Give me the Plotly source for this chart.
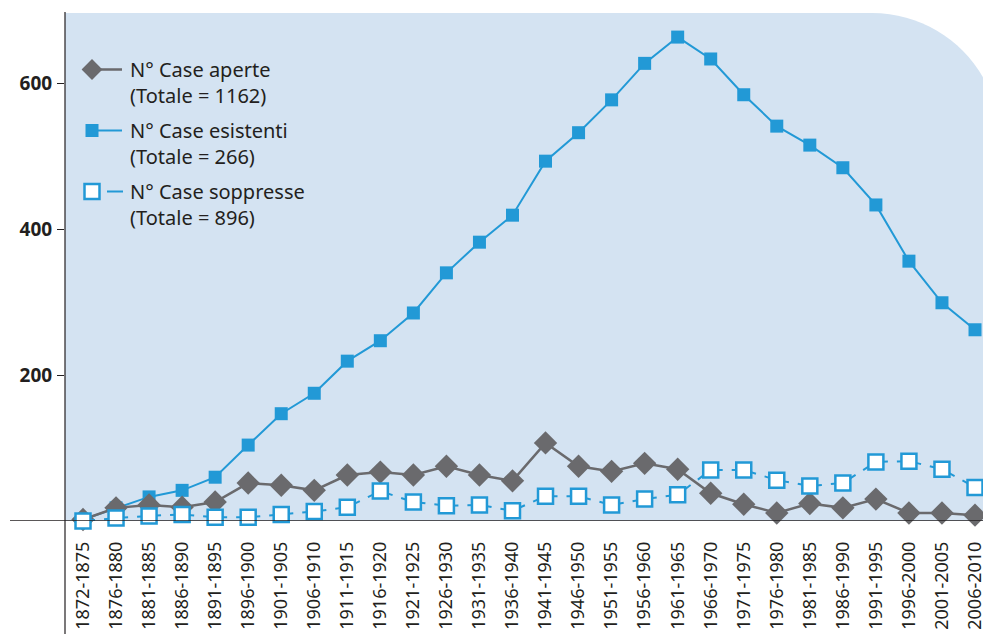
import math
import plotly.graph_objects as go

periods = ["1872-1875", "1876-1880", "1881-1885", "1886-1890", "1891-1895", "1896-1900",
           "1901-1905", "1906-1910", "1911-1915", "1916-1920", "1921-1925", "1926-1930",
           "1931-1935", "1936-1940", "1941-1945", "1946-1950", "1951-1955", "1956-1960",
           "1961-1965", "1966-1970", "1971-1975", "1976-1980", "1981-1985", "1986-1990",
           "1991-1995", "1996-2000", "2001-2005", "2006-2010"]

case_aperte = [2, 18, 22, 19, 26, 52, 49, 42, 63, 67, 63, 75, 63, 55, 107, 75, 68, 79,
               71, 38, 23, 11, 24, 18, 30, 11, 11, 8]
case_esistenti = [2, 18, 33, 42, 60, 104, 147, 175, 219, 247, 285, 340, 382, 419, 493,
                  532, 577, 627, 663, 633, 584, 541, 515, 484, 433, 356, 299, 262]
case_soppresse = [0, 4, 7, 9, 5, 5, 9, 13, 19, 41, 26, 21, 22, 14, 34, 34, 22, 30, 36,
                  70, 70, 56, 48, 52, 81, 82, 71, 46]

legend_names = ["N° Case aperte<br>(Totale = 1162)",
                "N° Case esistenti<br>(Totale = 266)",
                "N° Case soppresse<br>(Totale = 896)"]

GRAY = "#6a6a6d"
BLUE = "#2299d6"
BG = "#d4e3f2"
INK = "#231f20"
FONT = "Noto Sans"

W, H = 983, 634
ML, MR, MT, MB = 65, 0, 13, 113
PW, PH = W - ML - MR, H - MT - MB
XR = [-0.545, 27.242]
YR = [0, 696]
px_x = PW / (XR[1] - XR[0])
px_y = PH / (YR[1] - YR[0])

gray_marker = dict(symbol="diamond", size=18, color=GRAY)
blue_marker = dict(symbol="square", size=13, color=BLUE)
hollow_marker = dict(symbol="square", size=15, color="white", line=dict(color=BLUE, width=2.5))

fig = go.Figure()

# esistenti
fig.add_trace(go.Scatter(
    x=periods, y=case_esistenti, mode="lines+markers", showlegend=False,
    line=dict(color=BLUE, width=2), marker=blue_marker, cliponaxis=False))

# aperte
fig.add_trace(go.Scatter(
    x=periods, y=case_aperte, mode="lines+markers", showlegend=False,
    line=dict(color=GRAY, width=2.5), marker=gray_marker, cliponaxis=False))

# soppresse: dashed segments (gap centered between markers)
for i in range(len(periods) - 1):
    dy = (case_soppresse[i + 1] - case_soppresse[i]) * px_y
    L = math.hypot(px_x, dy)
    fig.add_trace(go.Scatter(
        x=periods[i:i + 2], y=case_soppresse[i:i + 2], mode="lines",
        line=dict(color=BLUE, width=2, dash=f"{L/2-4.5:.1f}px,9px,{L:.1f}px"),
        showlegend=False, hoverinfo="skip", cliponaxis=False))

fig.add_trace(go.Scatter(
    x=periods, y=case_soppresse, mode="markers", showlegend=False,
    marker=hollow_marker, cliponaxis=False))

# legend entries (line only to the right of the symbol)
LEG_W = 66
half = LEG_W / 2
fig.add_trace(go.Scatter(
    x=[None], y=[None], mode="lines+markers", name=legend_names[0],
    line=dict(color=GRAY, width=2.5, dash=f"0px,{half:.0f}px,{half-3:.0f}px,20px"),
    marker=gray_marker, legendgroup="a"))
fig.add_trace(go.Scatter(
    x=[None], y=[None], mode="lines+markers", name=legend_names[1],
    line=dict(color=BLUE, width=2, dash=f"0px,{half:.0f}px,{half-3:.0f}px,20px"),
    marker=blue_marker, legendgroup="b"))
fig.add_trace(go.Scatter(
    x=[None], y=[None], mode="lines+markers", name=legend_names[2],
    line=dict(color=BLUE, width=2, dash=f"0px,{half+15:.0f}px,{half-17:.0f}px,20px"),
    marker=hollow_marker, legendgroup="c"))

def xp(px):
    return (px - ML) / PW

def yp(py):
    return (H - MB - py) / PH

# blue background with rounded top-right corner
R = 128
x_right = 1000
x0, x1 = xp(ML), xp(x_right)
y0, y1 = yp(H - MB), yp(MT)
cx_start = xp(x_right - R)
cy_end = yp(MT + R)
k = 0.5523
path = (f"M {x0},{y0} L {x0},{y1} L {cx_start},{y1} "
        f"C {xp(x_right - R + k*R)},{y1} {x1},{yp(MT + R - k*R)} {x1},{cy_end} "
        f"L {x1},{y0} Z")
shapes = [
    dict(type="path", path=path, xref="paper", yref="paper",
         fillcolor=BG, line=dict(width=0), layer="below"),
    # vertical axis line
    dict(type="line", xref="paper", yref="paper", x0=0, x1=0, y0=yp(H), y1=yp(12),
         line=dict(color=INK, width=1.2)),
    # zero line
    dict(type="line", xref="paper", yref="y", x0=xp(10), x1=1, y0=0, y1=0,
         line=dict(color=INK, width=1.5)),
]

fig.update_layout(
    width=W, height=H,
    margin=dict(l=ML, r=MR, t=MT, b=MB, pad=0, autoexpand=False),
    paper_bgcolor="white", plot_bgcolor="rgba(0,0,0,0)",
    shapes=shapes,
    showlegend=True,
    legend=dict(x=xp(54), y=yp(50), xanchor="left", yanchor="top",
                bgcolor="rgba(0,0,0,0)", font=dict(family=FONT, size=20, color=INK),
                valign="top", tracegroupgap=6, itemwidth=LEG_W),
    xaxis=dict(type="category", range=XR, showgrid=False, zeroline=False, showline=False,
               automargin=False,
               ticks="", tickangle=-90, ticklabelstandoff=16,
               tickfont=dict(family=FONT, size=18, color=INK)),
    yaxis=dict(range=YR, tickvals=[200, 400, 600], showgrid=False, zeroline=False,
               automargin=False,
               showline=False, ticks="outside", ticklen=7, tickcolor=INK, tickwidth=1,
               ticklabelstandoff=1,
               tickfont=dict(family=FONT, size=19, color=INK, weight="bold")),
    font=dict(family=FONT, color=INK),
)

fig.write_html("out.html", config={"displayModeBar": False},
               post_script="document.body.style.margin='0';document.body.style.overflow='hidden';")
